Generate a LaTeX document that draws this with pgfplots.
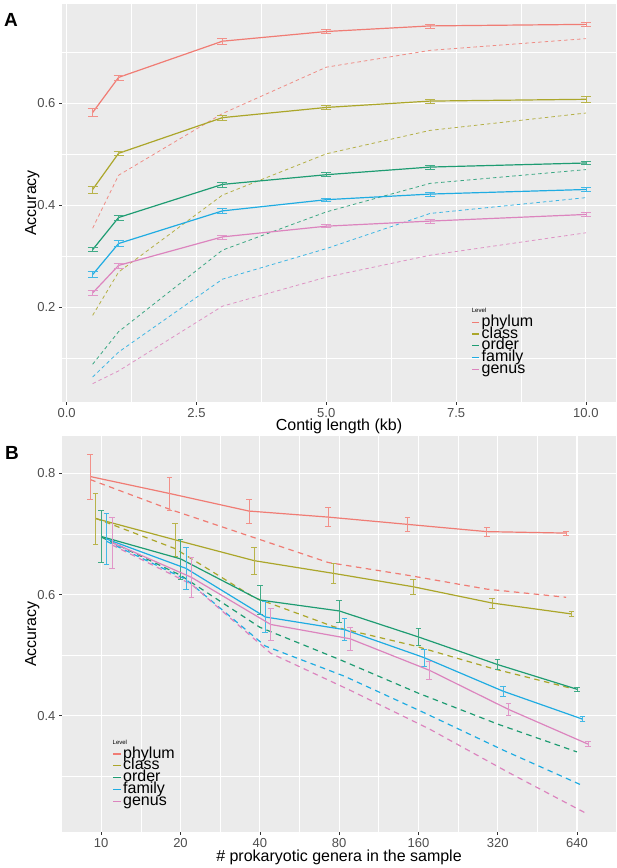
\documentclass[border=0pt]{standalone}
\usepackage{pgfplots}
\pgfplotsset{compat=1.18}
\usepackage{fontspec}
\setmainfont{Liberation Sans}
\definecolor{bgcol}{HTML}{EBEBEB}
\definecolor{labcol}{HTML}{4D4D4D}
\definecolor{tickcol}{HTML}{333333}
\definecolor{cphy}{HTML}{F07C74}
\definecolor{ccla}{HTML}{ABA62A}
\definecolor{cord}{HTML}{1E9C72}
\definecolor{cfam}{HTML}{1FACE2}
\definecolor{cgen}{HTML}{DC84BE}

% ---------- Panel A data ----------
\pgfplotstableread{
x y e
0.5 0.582 0.008
1 0.651 0.005
3 0.722 0.006
5 0.741 0.004
7 0.752 0.004
10 0.755 0.004
}\Aphy
\pgfplotstableread{
x y
0.5 0.355
1 0.459
3 0.580
5 0.671
7 0.704
10 0.727
}\Aphyd
\pgfplotstableread{
x y e
0.5 0.431 0.007
1 0.502 0.004
3 0.572 0.005
5 0.592 0.004
7 0.6045 0.004
10 0.608 0.006
}\Acla
\pgfplotstableread{
x y
0.5 0.184
1 0.269
3 0.420
5 0.501
7 0.547
10 0.581
}\Aclad
\pgfplotstableread{
x y e
0.5 0.313 0.004
1 0.376 0.005
3 0.441 0.005
5 0.460 0.004
7 0.475 0.004
10 0.483 0.003
}\Aord
\pgfplotstableread{
x y
0.5 0.088
1 0.152
3 0.312
5 0.387
7 0.443
10 0.470
}\Aordd
\pgfplotstableread{
x y e
0.5 0.264 0.006
1 0.325 0.006
3 0.389 0.005
5 0.411 0.003
7 0.422 0.004
10 0.431 0.004
}\Afam
\pgfplotstableread{
x y
0.5 0.063
1 0.112
3 0.255
5 0.315
7 0.384
10 0.415
}\Afamd
\pgfplotstableread{
x y e
0.5 0.228 0.005
1 0.282 0.005
3 0.338 0.004
5 0.359 0.003
7 0.369 0.004
10 0.382 0.004
}\Agen
\pgfplotstableread{
x y
0.5 0.050
1 0.075
3 0.202
5 0.259
7 0.302
10 0.346
}\Agend

% ---------- Panel B data ----------
\pgfplotstableread{
x y e d
9.09 0.795 0.037 0.790
18.18 0.767 0.027 0.741
36.36 0.738 0.020 0.697
72.73 0.728 0.016 0.653
145.45 0.716 0.012 0.632
290.9 0.704 0.0075 0.609
581.8 0.7016 0.003 0.5955
}\Bphy
\pgfplotstableread{
x y e d
9.53 0.7256 0.042 0.726
19.06 0.6905 0.028 0.676
38.12 0.656 0.022 0.595
76.24 0.635 0.017 0.547
152.5 0.613 0.013 0.516
305 0.586 0.0085 0.478
610 0.568 0.004 0.445
}\Bcla
\pgfplotstableread{
x y e d
10 0.696 0.043 0.695
20 0.659 0.033 0.632
40 0.591 0.024 0.546
80 0.573 0.018 0.493
160 0.530 0.0145 0.437
320 0.4843 0.008 0.386
640 0.4436 0.004 0.340
}\Bord
\pgfplotstableread{
x y e d
10.49 0.6917 0.042 0.688
20.98 0.6433 0.034 0.625
41.96 0.563 0.026 0.515
83.92 0.542 0.018 0.465
167.8 0.496 0.014 0.405
335.7 0.4403 0.008 0.343
671.4 0.3942 0.004 0.2845
}\Bfam
\pgfplotstableread{
x y e d
11 0.686 0.042 0.682
22 0.6285 0.033 0.617
44 0.5506 0.026 0.503
88 0.527 0.019 0.442
176 0.475 0.0145 0.378
352 0.4102 0.0096 0.306
704 0.353 0.004 0.237
}\Bgen

\pgfplotsset{
  ggstyle/.style={
    scale only axis,
    axis background/.style={fill=bgcol},
    axis line style={draw=none},
    grid=both,
    major grid style={white, line width=1.1pt},
    minor grid style={white, line width=0.5pt},
    major tick length=3pt, minor tick length=0pt,
    tick align=outside,
    xtick pos=left, ytick pos=left,
    tick style={color=tickcol, line width=0.6pt},
    tick label style={font=\fontsize{13}{13}\selectfont, text=labcol},
    /pgf/number format/assume math mode=true,
  },
  errA/.style={line width=1.2pt, #1,
    error bars/.cd, y dir=both, y explicit,
    error bar style={line width=0.6pt, #1!85},
    error mark options={rotate=90, mark size=5pt, line width=0.6pt, #1!85}},
  dashA/.style={line width=0.8pt, #1, opacity=0.85, dash pattern=on 3.5pt off 3pt},
  errB/.style={line width=1.2pt, #1,
    error bars/.cd, y dir=both, y explicit,
    error bar style={line width=0.6pt, #1!85},
    error mark options={rotate=90, mark size=2.8pt, line width=0.6pt, #1!85}},
  dashB/.style={line width=1.2pt, #1, dash pattern=on 5.5pt off 4.5pt},
}

\begin{document}
\begin{tikzpicture}
\useasboundingbox (0pt,0pt) rectangle (617pt,868pt);

% ================= Panel A =================
\begin{axis}[ggstyle,
  at={(62pt,466pt)}, anchor=south west,
  width=554pt, height=398pt,
  xmin=-0.09, xmax=10.58, ymin=0.014, ymax=0.795,
  xtick={0,2.5,5,7.5,10}, xticklabels={0.0,2.5,5.0,7.5,10.0},
  ytick={0.2,0.4,0.6}, yticklabels={0.2,0.4,0.6},
  minor xtick={1.25,3.75,6.25,8.75},
  minor ytick={0.1,0.3,0.5,0.7},
]
\addplot[dashA=cphy] table[x=x,y=y]{\Aphyd};
\addplot[dashA=ccla] table[x=x,y=y]{\Aclad};
\addplot[dashA=cord] table[x=x,y=y]{\Aordd};
\addplot[dashA=cfam] table[x=x,y=y]{\Afamd};
\addplot[dashA=cgen] table[x=x,y=y]{\Agend};
\addplot[errA=cphy] table[x=x,y=y,y error=e]{\Aphy};
\addplot[errA=ccla] table[x=x,y=y,y error=e]{\Acla};
\addplot[errA=cord] table[x=x,y=y,y error=e]{\Aord};
\addplot[errA=cfam] table[x=x,y=y,y error=e]{\Afam};
\addplot[errA=cgen] table[x=x,y=y,y error=e]{\Agen};
\end{axis}

% ================= Panel B =================
\begin{axis}[ggstyle,
  at={(62pt,36pt)}, anchor=south west,
  width=554pt, height=396pt,
  xmode=log,
  xmin=7.1, xmax=900, ymin=0.2077, ymax=0.862,
  xtick={10,20,40,80,160,320,640}, xticklabels={10,20,40,80,160,320,640},
  minor xtick={7.07,14.14,28.28,56.57,113.1,226.3,452.5},
  ytick={0.4,0.6,0.8}, yticklabels={0.4,0.6,0.8},
  minor ytick={0.3,0.5,0.7},
]
\addplot[dashB=cphy] table[x=x,y=d]{\Bphy};
\addplot[dashB=ccla] table[x=x,y=d]{\Bcla};
\addplot[dashB=cord] table[x=x,y=d]{\Bord};
\addplot[dashB=cfam] table[x=x,y=d]{\Bfam};
\addplot[dashB=cgen] table[x=x,y=d]{\Bgen};
\addplot[errB=cphy] table[x=x,y=y,y error=e]{\Bphy};
\addplot[errB=ccla] table[x=x,y=y,y error=e]{\Bcla};
\addplot[errB=cord] table[x=x,y=y,y error=e]{\Bord};
\addplot[errB=cfam] table[x=x,y=y,y error=e]{\Bfam};
\addplot[errB=cgen] table[x=x,y=y,y error=e]{\Bgen};
\end{axis}

% ---- titles, panel letters ----
\node[font=\bfseries\fontsize{19}{19}\selectfont, anchor=base west, inner sep=0pt] at (4pt,841.3pt) {A};
\node[font=\bfseries\fontsize{19}{19}\selectfont, anchor=base west, inner sep=0pt] at (5pt,408.7pt) {B};
\node[font=\fontsize{16}{16}\selectfont, anchor=base, inner sep=0pt] at (339pt,437.5pt) {Contig length (kb)};
\node[font=\fontsize{16}{16}\selectfont, anchor=base, inner sep=0pt] at (339pt,6.5pt) {\# prokaryotic genera in the sample};
\node[font=\fontsize{16}{16}\selectfont, anchor=base, rotate=90, inner sep=0pt] at (36pt,665pt) {Accuracy};
\node[font=\fontsize{16}{16}\selectfont, anchor=base, rotate=90, inner sep=0pt] at (36pt,234pt) {Accuracy};

% ---- legend A ----
\fill[cphy] (472.3pt,545.0pt) rectangle (479.3pt,546.4pt);
\fill[ccla] (472.3pt,533.3pt) rectangle (479.3pt,534.7pt);
\fill[cord] (472.3pt,521.6pt) rectangle (479.3pt,523.0pt);
\fill[cfam] (472.3pt,510.0pt) rectangle (479.3pt,511.4pt);
\fill[cgen] (472.3pt,498.0pt) rectangle (479.3pt,499.4pt);
\node[font=\fontsize{6}{6}\selectfont, anchor=base west, inner sep=0pt] at (471.7pt,555pt) {Level};
\node[font=\fontsize{16}{16}\selectfont, anchor=base west, inner sep=0pt] at (481.5pt,541.5pt) {phylum};
\node[font=\fontsize{16}{16}\selectfont, anchor=base west, inner sep=0pt] at (481.5pt,529.8pt) {class};
\node[font=\fontsize{16}{16}\selectfont, anchor=base west, inner sep=0pt] at (481.5pt,518.1pt) {order};
\node[font=\fontsize{16}{16}\selectfont, anchor=base west, inner sep=0pt] at (481.5pt,506.5pt) {family};
\node[font=\fontsize{16}{16}\selectfont, anchor=base west, inner sep=0pt] at (481.5pt,494.5pt) {genus};

% ---- legend B ----
\fill[cphy] (113pt,113.3pt) rectangle (120.5pt,114.7pt);
\fill[ccla] (113pt,101.6pt) rectangle (120.5pt,103.0pt);
\fill[cord] (113pt,90.0pt) rectangle (120.5pt,91.4pt);
\fill[cfam] (113pt,78.0pt) rectangle (120.5pt,79.4pt);
\fill[cgen] (113pt,65.6pt) rectangle (120.5pt,67.0pt);
\node[font=\fontsize{6}{6}\selectfont, anchor=base west, inner sep=0pt] at (112.5pt,123.5pt) {Level};
\node[font=\fontsize{16}{16}\selectfont, anchor=base west, inner sep=0pt] at (123pt,109.8pt) {phylum};
\node[font=\fontsize{16}{16}\selectfont, anchor=base west, inner sep=0pt] at (123pt,98.1pt) {class};
\node[font=\fontsize{16}{16}\selectfont, anchor=base west, inner sep=0pt] at (123pt,86.5pt) {order};
\node[font=\fontsize{16}{16}\selectfont, anchor=base west, inner sep=0pt] at (123pt,74.5pt) {family};
\node[font=\fontsize{16}{16}\selectfont, anchor=base west, inner sep=0pt] at (123pt,62.1pt) {genus};
\end{tikzpicture}
\end{document}
